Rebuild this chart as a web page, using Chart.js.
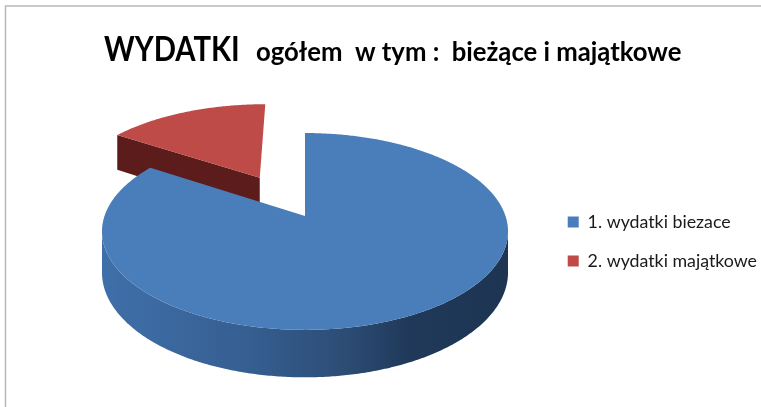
<!DOCTYPE html>
<html lang="pl">
<head>
    <meta charset="UTF-8">
    <title>WYDATKI</title>
    <style>
        html, body { margin: 0; padding: 0; background: #fff; }
        #wrap { position: relative; width: 761px; height: 407px; overflow: hidden; }
    </style>
</head>
<body>
    <div id="wrap"><canvas id="chart" width="761" height="407"></canvas></div>

    <script src="https://cdn.jsdelivr.net/npm/chart.js"></script>
    <script>
        const categories = ['1. wydatki biezace', '2. wydatki majątkowe'];
        const values = [84.2, 15.8];
        const colors = ['#4a7ebb', '#be4b48'];
        const titleMain = 'WYDATKI';
        const titleRest = 'ogółem  w tym :  bieżące i majątkowe';

        // widok 3D: punkt kola z Chart.js -> rzut perspektywiczny
        const view = { apexX: 305, apexY: 216, scaleX: 200.5, scaleY: 96, k: 0.157, depth: 40 };

        function project(u, v, dx) {
            const w = 1 / (1 - view.k * v);
            return { x: view.apexX + view.scaleX * u * w + (dx || 0), y: view.apexY + view.scaleY * v * w, w: w };
        }

        // punkty wycinka w ukladzie kola o promieniu 1
        function slicePoints(arc) {
            const mid = (arc.startAngle + arc.endAngle) / 2;
            const off = (arc.options.offset || 0) / 4 / arc.outerRadius;
            const ox = Math.cos(mid) * off;
            const oy = Math.sin(mid) * off;
            const steps = Math.ceil((arc.endAngle - arc.startAngle) / 0.01);
            const pts = [];
            for (let i = 0; i <= steps; i++) {
                const a = arc.startAngle + (arc.endAngle - arc.startAngle) * i / steps;
                pts.push({ u: ox + Math.cos(a), v: oy + Math.sin(a), cv: Math.sin(a) });
            }
            return { pts: pts, apex: { u: ox, v: oy } };
        }

        function fillPoly(ctx, pts, style) {
            ctx.beginPath();
            pts.forEach((p, i) => i ? ctx.lineTo(p.x, p.y) : ctx.moveTo(p.x, p.y));
            ctx.closePath();
            ctx.fillStyle = style;
            ctx.fill();
        }

        function below(p) {
            return { x: p.x, y: p.y + view.depth * p.w };
        }

        const pie3d = {
            id: 'pie3d',
            beforeDatasetsDraw(chart) {
                const ctx = chart.ctx;
                const arcs = chart.getDatasetMeta(0).data;

                // czerwony wycinek jest z tylu, rysowany pierwszy
                const red = slicePoints(arcs[1]);
                const redApex = project(red.apex.u, red.apex.v, -2);
                const redCorner = project(red.pts[0].u, red.pts[0].v, -2);
                fillPoly(ctx, [redCorner, redApex, below(redApex), below(redCorner)], '#5c1c1b');
                fillPoly(ctx, [redApex].concat(red.pts.map(p => project(p.u, p.v, -2))), colors[1]);

                // sciana boczna niebieskiego
                const blue = slicePoints(arcs[0]);
                const front = blue.pts.filter(p => p.cv >= view.k).map(p => project(p.u, p.v));
                const grad = ctx.createLinearGradient(103, 0, 510, 0);
                grad.addColorStop(0, '#3f6fa9');
                grad.addColorStop(0.35, '#365f92');
                grad.addColorStop(0.6, '#2c4c74');
                grad.addColorStop(0.75, '#20395a');
                grad.addColorStop(1, '#1d3552');
                fillPoly(ctx, front.concat(front.map(below).reverse()), grad);

                const blueApex = project(blue.apex.u, blue.apex.v);
                fillPoly(ctx, [blueApex].concat(blue.pts.map(p => project(p.u, p.v))), colors[0]);
                return false;
            },
            afterDraw(chart) {
                const ctx = chart.ctx;
                // ramka: tylko gora i lewa strona
                ctx.strokeStyle = '#b8b8b8';
                ctx.lineWidth = 1.5;
                ctx.beginPath();
                ctx.moveTo(5.5, 407);
                ctx.lineTo(5.5, 6);
                ctx.lineTo(761, 6);
                ctx.stroke();

                ctx.fillStyle = '#000';
                ctx.textBaseline = 'alphabetic';
                ctx.textAlign = 'left';
                ctx.save();
                ctx.translate(104, 61);
                ctx.scale(0.86, 1);
                ctx.font = 'bold 34px Lato';
                ctx.fillText(titleMain, 0, 0);
                ctx.restore();
                ctx.font = 'bold 25.7px Lato';
                ctx.fillText(titleRest, 256, 61);
            }
        };

        new Chart(document.getElementById('chart'), {
            type: 'pie',
            data: {
                labels: categories,
                datasets: [{
                    data: values,
                    backgroundColor: colors,
                    borderWidth: 0,
                    offset: [0, 144]
                }]
            },
            options: {
                responsive: false,
                animation: false,
                layout: { padding: { top: 95, bottom: 19, right: -6, left: 10 } },
                plugins: {
                    tooltip: { enabled: false },
                    legend: {
                        position: 'right',
                        labels: {
                            boxWidth: 11,
                            boxHeight: 11,
                            padding: 21,
                            color: '#1a1a1a',
                            font: { family: 'Lato', size: 17.8 }
                        }
                    }
                }
            },
            plugins: [pie3d]
        });
    </script>
</body>
</html>
